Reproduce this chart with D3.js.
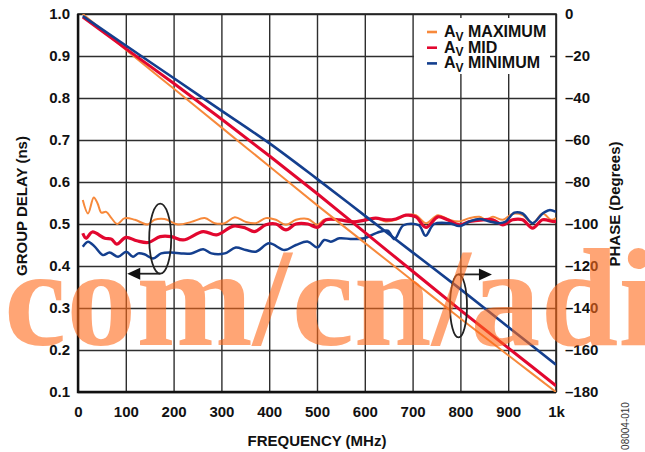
<!DOCTYPE html>
<html>
<head>
<meta charset="utf-8">
<script src="https://cdn.jsdelivr.net/npm/d3@7/dist/d3.min.js"></script>
<style>
  html, body { margin: 0; padding: 0; background: #fff; }
  svg { display: block; font-family: "Liberation Sans", Arial, Helvetica, sans-serif; }
</style>
</head>
<body>
<svg id="chart" width="645" height="452"></svg>
<script>
// Axis ticks
const freqTicks = [0, 100, 200, 300, 400, 500, 600, 700, 800, 900, 1000];
const freqTickLabels = ["0", "100", "200", "300", "400", "500", "600", "700", "800", "900", "1k"];
const delayTicks = [0.1, 0.2, 0.3, 0.4, 0.5, 0.6, 0.7, 0.8, 0.9, 1.0];
const phaseTicks = [0, -20, -40, -60, -80, -100, -120, -140, -160, -180];

// Series names (legend)
const seriesNames = ["MAXIMUM", "MID", "MINIMUM"];

// Group delay (ns) vs frequency (MHz), [freq, delay]
const delayMaximum = [
  [10,0.557],[21,0.525],[33,0.563],[41,0.549],[49,0.527],[59,0.529],[70,0.514],[82,0.500],
  [98,0.514],[119,0.510],[146,0.499],[160,0.510],[181,0.512],[209,0.499],[237,0.505],
  [265,0.514],[286,0.502],[307,0.502],[328,0.516],[351,0.505],[372,0.502],[393,0.514],
  [414,0.510],[435,0.498],[456,0.510],[481,0.512],[501,0.498],[515,0.510],[540,0.510],
  [561,0.508],[582,0.506],[603,0.510],[623,0.514],[644,0.506],[665,0.510],[686,0.521],
  [707,0.521],[728,0.502],[753,0.521],[777,0.510],[798,0.506],[819,0.514],[840,0.517],
  [854,0.510],[868,0.517],[889,0.510],[909,0.524],[930,0.521],[951,0.502],[972,0.525],
  [990,0.510],[1000,0.514]
];
const delayMid = [
  [10,0.478],[17,0.466],[30,0.481],[56,0.466],[70,0.464],[81,0.452],[100,0.468],[123,0.460],
  [147,0.456],[172,0.470],[195,0.470],[220,0.462],[262,0.482],[290,0.474],[325,0.495],
  [351,0.490],[369,0.482],[393,0.498],[414,0.500],[435,0.486],[456,0.500],[481,0.500],
  [501,0.492],[519,0.510],[547,0.510],[575,0.505],[603,0.510],[623,0.514],[644,0.510],
  [665,0.512],[686,0.521],[707,0.517],[728,0.492],[753,0.517],[773,0.510],[798,0.498],
  [819,0.506],[847,0.510],[868,0.510],[889,0.498],[909,0.510],[930,0.510],[951,0.490],
  [972,0.510],[993,0.506],[1000,0.506]
];
const delayMinimum = [
  [10,0.446],[21,0.458],[35,0.446],[52,0.426],[66,0.432],[84,0.422],[101,0.434],[115,0.422],
  [126,0.430],[139,0.428],[157,0.418],[174,0.430],[195,0.432],[216,0.430],[237,0.430],
  [262,0.440],[279,0.430],[307,0.430],[330,0.444],[351,0.438],[372,0.434],[400,0.454],
  [432,0.438],[456,0.450],[481,0.458],[501,0.444],[515,0.462],[529,0.458],[547,0.466],
  [575,0.464],[599,0.466],[625,0.479],[648,0.484],[662,0.464],[681,0.497],[713,0.497],
  [727,0.472],[745,0.500],[777,0.502],[798,0.495],[819,0.506],[840,0.512],[861,0.506],
  [882,0.502],[895,0.506],[913,0.527],[930,0.525],[951,0.502],[972,0.525],[986,0.533],
  [1000,0.529]
];

// Phase (degrees) vs frequency (MHz)
const phaseFreq = [10, 100, 200, 300, 400, 500, 600, 700, 800, 900, 1000];
const phaseMaximum = [0, -17, -35.5, -54, -72.5, -91, -109, -127, -145, -162.5, -180];
const phaseMid = [-1.5, -16.5, -33, -50, -67.5, -85.5, -104, -122.5, -141, -159, -177];
const phaseMinimum = [-1, -15, -30.5, -46, -61.5, -78.5, -96, -113.5, -131, -149, -167];

// ---- drawing ----
const colors = ["#F7893B", "#E2072F", "#143F8E"];
const delayWidths = [2, 3.2, 2.5];
const phaseWidths = [2, 3, 2.6];

const svg = d3.select("#chart");
const plot = { left: 78, right: 556, top: 14, bottom: 392 };
const W = plot.right - plot.left, H = plot.bottom - plot.top;

const x = d3.scaleLinear().domain([0, 1000]).range([plot.left, plot.right]);
const yDelay = d3.scaleLinear().domain([0.1, 1.0]).range([plot.bottom, plot.top]);
const yPhase = d3.scaleLinear().domain([-180, 0]).range([plot.bottom, plot.top]);

// vertical grid + frequency labels
const xAxis = svg.append("g")
  .attr("transform", `translate(0,${plot.bottom})`)
  .call(d3.axisBottom(x).tickValues(freqTicks).tickSize(-H).tickPadding(14)
    .tickFormat((d, i) => freqTickLabels[i]));
// horizontal grid + delay labels
const yAxisL = svg.append("g")
  .attr("transform", `translate(${plot.left},0)`)
  .call(d3.axisLeft(yDelay).tickValues(delayTicks).tickSize(-W).tickPadding(8)
    .tickFormat(d3.format(".1f")));
// phase labels on the right
const yAxisR = svg.append("g")
  .attr("transform", `translate(${plot.right},0)`)
  .call(d3.axisRight(yPhase).tickValues(phaseTicks).tickSize(0).tickPadding(9)
    .tickFormat(d => d === 0 ? "0" : "\u2013" + Math.abs(d)));

[xAxis, yAxisL, yAxisR].forEach(g => {
  g.select(".domain").remove();
  g.selectAll(".tick line").attr("stroke", "#2e2e2e").attr("stroke-width", 1.4);
  g.selectAll(".tick text")
    .attr("fill", "#111")
    .style("font-size", "15px")
    .style("font-weight", "bold")
    .style("font-family", "'Liberation Sans', Arial, sans-serif");
});

// plot frame
svg.append("rect")
  .attr("x", plot.left).attr("y", plot.top).attr("width", W).attr("height", H)
  .attr("fill", "none").attr("stroke", "#222").attr("stroke-width", 1.6);
svg.append("path")
  .attr("d", `M${plot.left},${plot.top}V${plot.bottom}H${plot.right}`)
  .attr("fill", "none").attr("stroke", "#111").attr("stroke-width", 2.4);

// legend background box
svg.append("rect")
  .attr("x", 414).attr("y", 18).attr("width", 136).attr("height", 56)
  .attr("fill", "#fff");

svg.append("clipPath").attr("id", "plotClip")
  .append("rect").attr("x", plot.left).attr("y", plot.top).attr("width", W).attr("height", H);

const layer = svg.append("g").attr("clip-path", "url(#plotClip)");

// group delay traces
const delayLine = d3.line()
  .x(d => x(d[0])).y(d => yDelay(d[1]))
  .curve(d3.curveCatmullRom.alpha(0.5));
[delayMaximum, delayMid, delayMinimum].forEach((s, i) => {
  layer.append("path").datum(s)
    .attr("d", delayLine)
    .attr("fill", "none").attr("stroke", colors[i])
    .attr("stroke-width", delayWidths[i]).attr("stroke-linejoin", "round");
});

// phase traces
const phaseLine = d3.line()
  .x(d => x(d[0])).y(d => yPhase(d[1]))
  .curve(d3.curveMonotoneX);
[phaseMaximum, phaseMid, phaseMinimum].forEach((s, i) => {
  layer.append("path").datum(phaseFreq.map((f, j) => [f, s[j]]))
    .attr("d", phaseLine)
    .attr("fill", "none").attr("stroke", colors[i])
    .attr("stroke-width", phaseWidths[i]);
});

// ellipse + arrow annotations (left: delay axis, right: phase axis)
const annot = svg.append("g").attr("stroke", "#222").attr("fill", "none").attr("stroke-width", 1.8);
const lx = x(172), ly = yDelay(0.465);
annot.append("ellipse").attr("cx", lx).attr("cy", ly).attr("rx", 11).attr("ry", 35);
annot.append("line").attr("x1", lx).attr("y1", ly + 35).attr("x2", x(115)).attr("y2", ly + 35);
svg.append("path")
  .attr("d", `M${x(103)},${ly + 35}l13,-6v12z`).attr("fill", "#111");
const rx = x(796), ry = yPhase(-139);
annot.append("ellipse").attr("cx", rx).attr("cy", ry).attr("rx", 8.5).attr("ry", 31.5);
annot.append("line").attr("x1", rx).attr("y1", ry - 31.5).attr("x2", x(845)).attr("y2", ry - 31.5);
svg.append("path")
  .attr("d", `M${x(866)},${ry - 31.5}l-13,-6v12z`).attr("fill", "#111");

// legend entries
const legend = svg.append("g");
seriesNames.forEach((name, i) => {
  const yy = 32 + i * 15.7;
  legend.append("line")
    .attr("x1", 427).attr("x2", 437).attr("y1", yy).attr("y2", yy)
    .attr("stroke", colors[i]).attr("stroke-width", 2.6);
  const t = legend.append("text")
    .attr("x", 444).attr("y", yy + 5)
    .attr("fill", "#111")
    .style("font-size", "16px").style("font-weight", "bold");
  t.append("tspan").text("A");
  t.append("tspan").attr("dy", 3.5).style("font-size", "12px").text("V");
  t.append("tspan").attr("dy", -3.5).text(" " + name);
});

// axis titles
svg.append("text")
  .attr("x", (plot.left + plot.right) / 2).attr("y", 445.5)
  .attr("text-anchor", "middle").attr("fill", "#111")
  .style("font-size", "15px").style("font-weight", "bold")
  .text("FREQUENCY (MHz)");
svg.append("text")
  .attr("transform", "translate(27,206) rotate(-90)")
  .attr("text-anchor", "middle").attr("fill", "#111")
  .style("font-size", "15px").style("font-weight", "bold")
  .text("GROUP DELAY (ns)");
svg.append("text")
  .attr("transform", "translate(620,204) rotate(-90)")
  .attr("text-anchor", "middle").attr("fill", "#111")
  .style("font-size", "15px").style("font-weight", "bold")
  .text("PHASE (Degrees)");
svg.append("text")
  .attr("transform", "translate(629,426) rotate(-90)")
  .attr("text-anchor", "middle").attr("fill", "#333")
  .style("font-size", "10px")
  .text("08004-010");

// site watermark overlay
svg.append("text")
  .attr("x", 4).attr("y", 345)
  .attr("fill", "#ff6a1a").attr("opacity", 0.6)
  .style("font-family", "'Liberation Serif', 'Times New Roman', serif")
  .style("font-weight", "bold").style("font-size", "140px")
  .text("com/cn/adi");
</script>
</body>
</html>
